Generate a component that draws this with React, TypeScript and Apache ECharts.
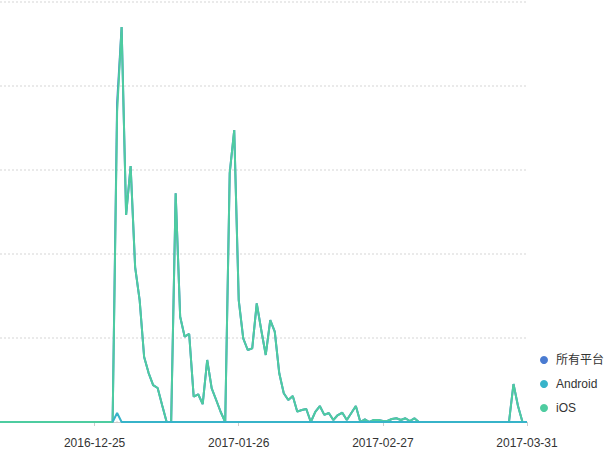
import React, { useEffect, useRef } from "react";
import * as echarts from "echarts";

const START_DATE = "2016-12-04";
const DAY_COUNT = 118;
const LABEL_OFFSET = 21;
const LABEL_STEP = 32;

const seriesNames = ["所有平台", "Android", "iOS"];

// iOS values, index 0 = 2016-12-04
const iosValues: number[] = [
  0, 0, 0, 0, 0, 0, 0, 0, 0, 0,
  0, 0, 0, 0, 0, 0, 0, 0, 0, 0,
  0, 0, 0, 0, 0, 0, 3690, 4702, 2464, 3048,
  1845, 1452, 774, 583, 440, 405, 200, 0, 0, 2722,
  1254, 1016, 1048, 302, 330, 214, 738, 401, 262, 119,
  0, 2964, 3476, 1452, 996, 857, 877, 1413, 1095, 798,
  1214, 1075, 580, 342, 262, 310, 123, 143, 155, 0,
  120, 190, 85, 107, 24, 83, 110, 24, 107, 190,
  0, 32, 0, 24, 24, 12, 12, 36, 44, 24,
  44, 12, 44, 0, 0, 0, 0, 0, 0, 0,
  0, 0, 0, 0, 0, 0, 0, 0, 0, 0,
  0, 0, 0, 0, 452, 190, 0, 0,
];

// Android values (no data before 2016-12-29)
const androidValues: (number | null)[] = [
  null, null, null, null, null, null, null, null, null, null,
  null, null, null, null, null, null, null, null, null, null,
  null, null, null, null, null, 0, 107, 0, 0, 0,
  0, 0, 0, 0, 0, 0, 0, 0, 0, 0,
  0, 0, 0, 0, 0, 0, 0, 0, 0, 0,
  0, 0, 0, 0, 0, 0, 0, 0, 0, 0,
  0, 0, 0, 0, 0, 0, 0, 0, 0, 0,
  0, 0, 0, 0, 0, 0, 0, 0, 0, 0,
  0, 0, 0, 0, 0, 0, 0, 0, 0, 0,
  0, 0, 0, 0, 0, 0, 0, 0, 0, 0,
  0, 0, 0, 0, 0, 0, 0, 0, 0, 0,
  0, 0, 0, 0, 0, 0, 0, 0,
];

// All platforms values
const allValues: number[] = [
  0, 0, 0, 0, 0, 0, 0, 0, 0, 0,
  0, 0, 0, 0, 0, 0, 0, 0, 0, 0,
  0, 0, 0, 0, 0, 0, 3797, 4702, 2464, 3048,
  1845, 1452, 774, 583, 440, 405, 200, 0, 0, 2722,
  1254, 1016, 1048, 302, 330, 214, 738, 401, 262, 119,
  0, 2964, 3476, 1452, 996, 857, 877, 1413, 1095, 798,
  1214, 1075, 580, 342, 262, 310, 123, 143, 155, 0,
  120, 190, 85, 107, 24, 83, 110, 24, 107, 190,
  0, 32, 0, 24, 24, 12, 12, 36, 44, 24,
  44, 12, 44, 0, 0, 0, 0, 0, 0, 0,
  0, 0, 0, 0, 0, 0, 0, 0, 0, 0,
  0, 0, 0, 0, 452, 190, 0, 0,
];

function buildDates(start: string, count: number): string[] {
  const out: string[] = [];
  const d = new Date(start + "T00:00:00Z");
  for (let i = 0; i < count; i++) {
    const cur = new Date(d.getTime() + i * 86400000);
    const y = cur.getUTCFullYear();
    const m = String(cur.getUTCMonth() + 1).padStart(2, "0");
    const day = String(cur.getUTCDate()).padStart(2, "0");
    out.push(`${y}-${m}-${day}`);
  }
  return out;
}

const dates = buildDates(START_DATE, DAY_COUNT);

export default function App() {
  const ref = useRef<HTMLDivElement>(null);
  useEffect(() => {
    if (!ref.current) return;
    const chart = echarts.init(ref.current, null, { renderer: "svg" });
    const showIdx = (i: number) => i >= LABEL_OFFSET && (i - LABEL_OFFSET) % LABEL_STEP === 0;
    chart.setOption({
      animation: false,
      textStyle: { fontFamily: "Liberation Sans, 'Noto Sans CJK SC', sans-serif" },
      grid: { left: 0, right: 87, top: 2, bottom: 31, containLabel: false },
      legend: {
        data: seriesNames,
        orient: "vertical",
        right: 5,
        bottom: 34,
        icon: "circle",
        itemWidth: 14,
        itemHeight: 8,
        itemGap: 12,
        textStyle: { fontSize: 12, color: "#333" },
      },
      xAxis: {
        type: "category",
        data: dates,
        boundaryGap: false,
        axisLine: { lineStyle: { color: "#ccc" } },
        axisTick: { interval: (i: number) => showIdx(i), length: 4, lineStyle: { color: "#ccc" } },
        axisLabel: { interval: (i: number) => showIdx(i), color: "#333", fontSize: 12, margin: 15 },
        splitLine: { show: false },
      },
      yAxis: {
        type: "value",
        min: 0,
        max: 5000,
        interval: 1000,
        axisLine: { show: false },
        axisTick: { show: false },
        axisLabel: { show: false },
        splitLine: { lineStyle: { color: "#e3e3e3", type: [2, 2], width: 1.5 } },
      },
      series: [
        {
          name: seriesNames[0],
          type: "line",
          data: allValues,
          showSymbol: false,
          z: 2,
          itemStyle: { color: "#4a7bd1" },
          lineStyle: { width: 2, color: "#4a7bd1" },
        },
        {
          name: seriesNames[1],
          type: "line",
          data: androidValues,
          showSymbol: false,
          z: 4,
          itemStyle: { color: "#37b3c9" },
          lineStyle: { width: 2, color: "#37b3c9" },
        },
        {
          name: seriesNames[2],
          type: "line",
          data: iosValues,
          showSymbol: false,
          z: 3,
          itemStyle: { color: "#4ecca0" },
          lineStyle: { width: 2, color: "#4ecca0" },
        },
      ],
    });
    return () => chart.dispose();
  }, []);
  return <div ref={ref} style={{ width: 614, height: 453, position: "absolute", left: 0, top: 0 }} />;
}
